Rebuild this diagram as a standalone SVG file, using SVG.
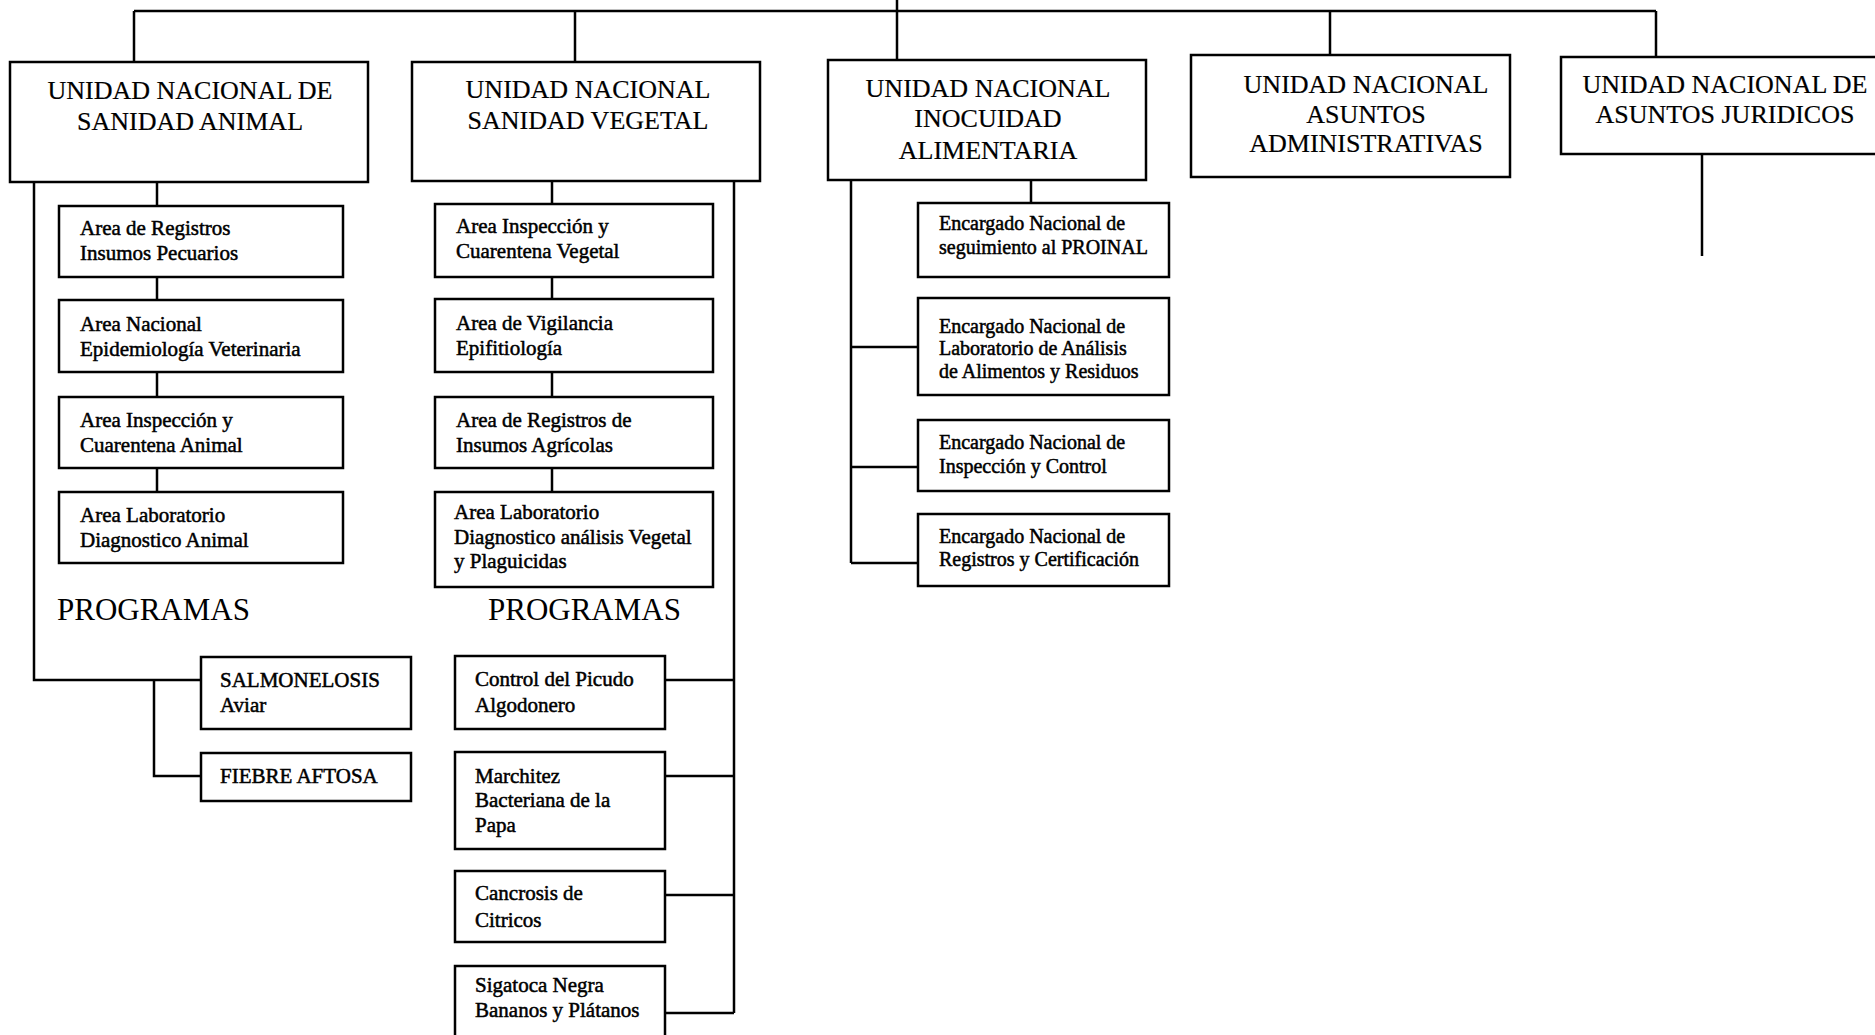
<svg xmlns="http://www.w3.org/2000/svg" width="1875" height="1035" viewBox="0 0 1875 1035">
<style>
.bx{fill:#fff;stroke:#000;stroke-width:2.5}
.ln{fill:none;stroke:#000;stroke-width:2.5}
.h{font-family:"Liberation Serif","Times New Roman",serif;font-size:26px;fill:#000;text-anchor:middle;stroke:#000;stroke-width:0.2}
.s{font-family:"Liberation Serif","Times New Roman",serif;font-size:21px;fill:#000;stroke:#000;stroke-width:0.5}
.e{font-family:"Liberation Serif","Times New Roman",serif;font-size:20px;fill:#000;stroke:#000;stroke-width:0.5}
.p{font-family:"Liberation Serif","Times New Roman",serif;font-size:31px;fill:#000}
</style>
<rect width="1875" height="1035" fill="#fff"/>
<g id="connectors">
<path class="ln" d="M897 0V60M134 11H1656M134 11V62M575 11V62M1330 11V55M1656 11V57"/>
<path class="ln" d="M34 182V680H201M154 680V776H201"/>
<path class="ln" d="M157 182V206M157 277V300M157 372V397M157 468V492"/>
<path class="ln" d="M552 181V204M552 277V299M552 372V397M552 468V492"/>
<path class="ln" d="M734 181V1013M665 680H734M665 776H734M665 895H734M665 1013H734"/>
<path class="ln" d="M851 180V563M851 347H918M851 467H918M851 563H918M1031 180V203"/>
<path class="ln" d="M1702 154V256"/>
</g>
<g id="n-animal"><rect class="bx" x="10" y="62" width="358" height="120"/><text class="h" x="190" y="99">UNIDAD NACIONAL DE</text><text class="h" x="190" y="130">SANIDAD ANIMAL</text></g>
<g id="n-vegetal"><rect class="bx" x="412" y="62" width="348" height="119"/><text class="h" x="588" y="98">UNIDAD NACIONAL</text><text class="h" x="588" y="129">SANIDAD VEGETAL</text></g>
<g id="n-inocuidad"><rect class="bx" x="828" y="60" width="318" height="120"/><text class="h" x="988" y="97">UNIDAD NACIONAL</text><text class="h" x="988" y="127">INOCUIDAD</text><text class="h" x="988" y="159">ALIMENTARIA</text></g>
<g id="n-administrativas"><rect class="bx" x="1191" y="55" width="319" height="122"/><text class="h" x="1366" y="93">UNIDAD NACIONAL</text><text class="h" x="1366" y="123">ASUNTOS</text><text class="h" x="1366" y="152">ADMINISTRATIVAS</text></g>
<g id="n-juridicos"><rect class="bx" x="1561" y="57" width="330" height="97"/><text class="h" x="1725" y="93">UNIDAD NACIONAL DE</text><text class="h" x="1725" y="123">ASUNTOS JURIDICOS</text></g>

<g id="a1"><rect class="bx" x="59" y="206" width="284" height="71"/><text class="s" x="80" y="235">Area de Registros</text><text class="s" x="80" y="260">Insumos Pecuarios</text></g>
<g id="a2"><rect class="bx" x="59" y="300" width="284" height="72"/><text class="s" x="80" y="331">Area Nacional</text><text class="s" x="80" y="356">Epidemiología Veterinaria</text></g>
<g id="a3"><rect class="bx" x="59" y="397" width="284" height="71"/><text class="s" x="80" y="427">Area Inspección y</text><text class="s" x="80" y="452">Cuarentena Animal</text></g>
<g id="a4"><rect class="bx" x="59" y="492" width="284" height="71"/><text class="s" x="80" y="522">Area Laboratorio</text><text class="s" x="80" y="547">Diagnostico Animal</text></g>
<text class="p" x="57" y="620">PROGRAMAS</text>
<g id="pa1"><rect class="bx" x="201" y="657" width="210" height="72"/><text class="s" x="220" y="687">SALMONELOSIS</text><text class="s" x="220" y="712">Aviar</text></g>
<g id="pa2"><rect class="bx" x="201" y="753" width="210" height="48"/><text class="s" x="220" y="783">FIEBRE AFTOSA</text></g>

<g id="v1"><rect class="bx" x="435" y="204" width="278" height="73"/><text class="s" x="456" y="233">Area Inspección y</text><text class="s" x="456" y="258">Cuarentena Vegetal</text></g>
<g id="v2"><rect class="bx" x="435" y="299" width="278" height="73"/><text class="s" x="456" y="330">Area de Vigilancia</text><text class="s" x="456" y="355">Epifitiología</text></g>
<g id="v3"><rect class="bx" x="435" y="397" width="278" height="71"/><text class="s" x="456" y="427">Area de Registros de</text><text class="s" x="456" y="452">Insumos Agrícolas</text></g>
<g id="v4"><rect class="bx" x="435" y="492" width="278" height="95"/><text class="s" x="454" y="519">Area Laboratorio</text><text class="s" x="454" y="544">Diagnostico análisis Vegetal</text><text class="s" x="454" y="568">y Plaguicidas</text></g>
<text class="p" x="488" y="620">PROGRAMAS</text>
<g id="pv1"><rect class="bx" x="455" y="656" width="210" height="73"/><text class="s" x="475" y="686">Control del Picudo</text><text class="s" x="475" y="712">Algodonero</text></g>
<g id="pv2"><rect class="bx" x="455" y="752" width="210" height="97"/><text class="s" x="475" y="783">Marchitez</text><text class="s" x="475" y="807">Bacteriana de la</text><text class="s" x="475" y="832">Papa</text></g>
<g id="pv3"><rect class="bx" x="455" y="871" width="210" height="71"/><text class="s" x="475" y="900">Cancrosis de</text><text class="s" x="475" y="927">Citricos</text></g>
<g id="pv4"><rect class="bx" x="455" y="966" width="210" height="80"/><text class="s" x="475" y="992">Sigatoca Negra</text><text class="s" x="475" y="1017">Bananos y Plátanos</text></g>

<g id="e1"><rect class="bx" x="918" y="203" width="251" height="74"/><text class="e" x="939" y="230">Encargado Nacional de</text><text class="e" x="939" y="254">seguimiento al PROINAL</text></g>
<g id="e2"><rect class="bx" x="918" y="298" width="251" height="97"/><text class="e" x="939" y="333">Encargado Nacional de</text><text class="e" x="939" y="355">Laboratorio de Análisis</text><text class="e" x="939" y="378">de Alimentos y Residuos</text></g>
<g id="e3"><rect class="bx" x="918" y="420" width="251" height="71"/><text class="e" x="939" y="449">Encargado Nacional de</text><text class="e" x="939" y="473">Inspección y Control</text></g>
<g id="e4"><rect class="bx" x="918" y="514" width="251" height="72"/><text class="e" x="939" y="543">Encargado Nacional de</text><text class="e" x="939" y="566">Registros y Certificación</text></g>
</svg>
